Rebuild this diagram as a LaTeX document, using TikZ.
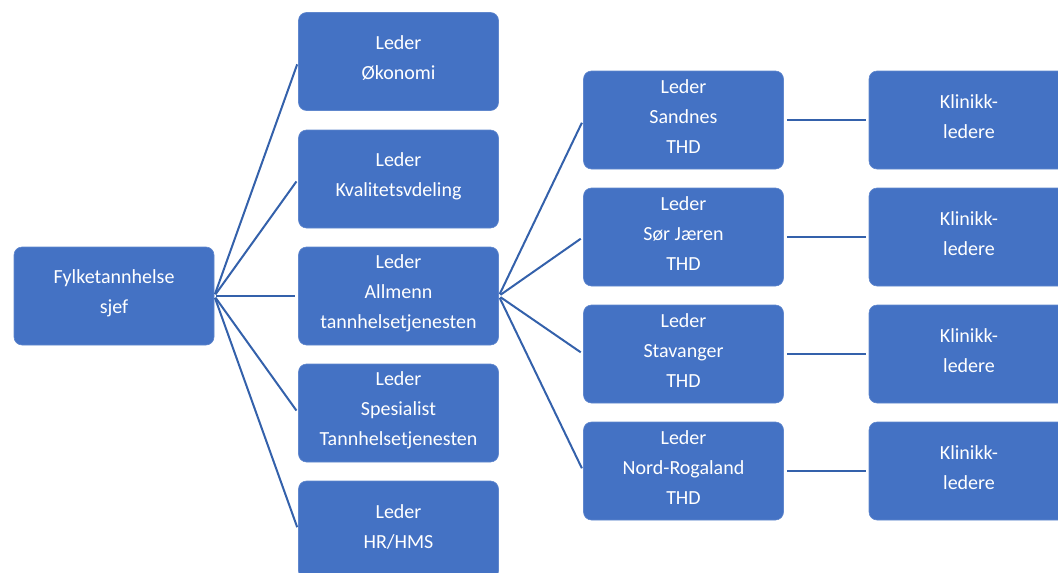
\documentclass[tikz,border=0pt]{standalone}
\usepackage{fontspec}
\setmainfont{Carlito}
\definecolor{boxblue}{HTML}{4472C4}
\definecolor{lineblue}{HTML}{3461AB}
\begin{document}
\begin{tikzpicture}[x=1pt,y=-1pt,
  box/.style={fill=boxblue, draw=boxblue!85!white, line width=0.6pt, rounded corners=8pt,
    minimum width=200pt, minimum height=98pt, inner sep=0pt},
  txt/.style={text=white, align=center, font=\fontsize{20}{30}\selectfont, inner sep=0pt},
  conn/.style={draw=lineblue, line width=2pt, shorten >=3pt, shorten <=2pt}]
\useasboundingbox (0,0) rectangle (1058,573);
\clip (0,0) rectangle (1058,573);
% boxes
\node[box] (root) at (114,296) {};
\node[box] (a1) at (398.5,61.5) {};
\node[box] (a2) at (398.5,179) {};
\node[box] (a3) at (398.5,296) {};
\node[box] (a4) at (398.5,413) {};
\node[box] (a5) at (398.5,530) {};
\node[box] (b1) at (683.5,120) {};
\node[box] (b2) at (683.5,237) {};
\node[box] (b3) at (683.5,354) {};
\node[box] (b4) at (683.5,471) {};
\node[box] (c1) at (969,120) {};
\node[box] (c2) at (969,237) {};
\node[box] (c3) at (969,354) {};
\node[box] (c4) at (969,471) {};
% texts
\node[txt] (troot) at ([yshift=3pt]root.center) {Fylketannhelse\\sjef};
\node[txt] (ta1) at ([yshift=3pt]a1.center) {Leder\\Økonomi};
\node[txt] (ta2) at ([yshift=3pt]a2.center) {Leder\\Kvalitetsvdeling};
\node[txt] (ta3) at ([yshift=3pt]a3.center) {Leder\\Allmenn\\tannhelsetjenesten};
\node[txt] (ta4) at ([yshift=3pt]a4.center) {Leder\\Spesialist\\Tannhelsetjenesten};
\node[txt] (ta5) at ([yshift=3pt]a5.center) {Leder\\HR/HMS};
\node[txt] (tb1) at ([yshift=3pt]b1.center) {Leder\\Sandnes\\THD};
\node[txt] (tb2) at ([yshift=3pt]b2.center) {Leder\\Sør Jæren\\THD};
\node[txt] (tb3) at ([yshift=3pt]b3.center) {Leder\\Stavanger\\THD};
\node[txt] (tb4) at ([yshift=3pt]b4.center) {Leder\\Nord-Rogaland\\THD};
\node[txt] (tc1) at ([yshift=3pt]c1.center) {Klinikk-\\ledere};
\node[txt] (tc2) at ([yshift=3pt]c2.center) {Klinikk-\\ledere};
\node[txt] (tc3) at ([yshift=3pt]c3.center) {Klinikk-\\ledere};
\node[txt] (tc4) at ([yshift=3pt]c4.center) {Klinikk-\\ledere};
% connectors
\foreach \n in {a1,a2,a3,a4,a5} \draw[conn] (root.east) -- (\n.west);
\foreach \n in {b1,b2,b3,b4} \draw[conn] (a3.east) -- (\n.west);
\foreach \i in {1,2,3,4} \draw[conn, shorten <=3pt] (b\i.east) -- (c\i.west);
\end{tikzpicture}
\end{document}
